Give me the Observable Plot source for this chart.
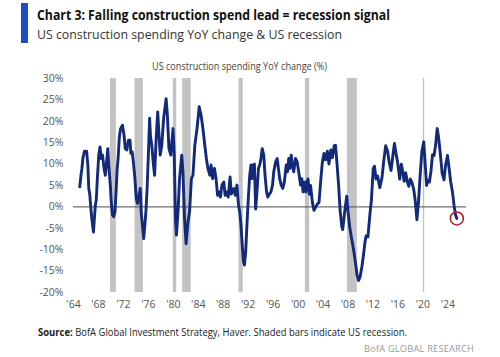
<!DOCTYPE html>
<html>
<head>
<meta charset="utf-8">
<script src="https://cdn.jsdelivr.net/npm/d3@7"></script>
<script src="https://cdn.jsdelivr.net/npm/@observablehq/plot@0.6"></script>
<style>
  html, body { margin: 0; padding: 0; background: #fff; }
  #wrap { position: relative; width: 500px; height: 357px; overflow: hidden; font-family: "Open Sans", "Noto Sans", sans-serif; }
  .fit { position: absolute; white-space: nowrap; transform-origin: 0 0; line-height: 1; }
  #bar { position: absolute; left: 21px; top: 3px; width: 7px; height: 40px; background: #1a4fc4; }
  #title { left: 37px; top: 8px; font-size: 14px; font-weight: 700; color: #111; }
  #subtitle { left: 37px; top: 27.5px; font-size: 13px; font-weight: 400; color: #333; }
  #inner { left: 152px; top: 61px; font-size: 10px; color: #444; }
  #source { left: 38px; top: 327px; font-size: 10.5px; color: #222; }
  #brand { left: 364px; top: 344px; font-size: 9px; color: #999; letter-spacing: 0.2px; }
  #chart { position: absolute; left: 0; top: 52px; }
</style>
</head>
<body>
<div id="wrap">
  <div id="bar"></div>
  <div id="title" class="fit" data-w="353">Chart 3: Falling construction spend lead = recession signal</div>
  <div id="subtitle" class="fit" data-w="305">US construction spending YoY change &amp; US recession</div>
  <div id="inner" class="fit" data-w="175">US construction spending YoY change (%)</div>
  <div id="chart"></div>
  <div id="source" class="fit" data-w="369"><b>Source:</b> BofA Global Investment Strategy, Haver. Shaded bars indicate US recession.</div>
  <div id="brand" class="fit" data-w="110">BofA GLOBAL RESEARCH</div>
</div>
<script>
// --- data ---
const years = [
  1965.0,1965.2,1965.35,1965.5,1965.75,1966.1,1966.3,1966.45,1966.6,1966.9,
  1967.2,1967.35,1967.5,1967.65,1967.85,1968.05,1968.25,1968.45,1968.65,1968.9,
  1969.1,1969.35,1969.5,1969.65,1969.9,1970.05,1970.25,1970.45,1970.65,1970.85,
  1971.0,1971.15,1971.35,1971.55,1971.85,1972.1,1972.3,1972.55,1972.8,1973.05,
  1973.2,1973.4,1973.6,1973.85,1974.05,1974.25,1974.5,1974.7,1974.85,1975.05,
  1975.25,1975.4,1975.6,1975.8,1976.0,1976.2,1976.35,1976.55,1976.8,1977.0,
  1977.25,1977.5,1977.65,1977.9,1978.15,1978.45,1978.85,1979.05,1979.3,1979.6,
  1979.95,1980.15,1980.35,1980.5,1980.75,1981.0,1981.35,1981.55,1981.8,1982.05,
  1982.35,1982.6,1982.9,1983.15,1983.45,1983.8,1984.15,1984.45,1984.75,1985.05,
  1985.3,1985.55,1985.85,1986.05,1986.3,1986.6,1986.85,1987.1,1987.35,1987.55,
  1987.8,1988.1,1988.3,1988.55,1988.8,1989.1,1989.3,1989.7,1989.95,1990.2,
  1990.45,1990.65,1990.85,1991.05,1991.25,1991.4,1991.6,1991.8,1992.05,1992.25,
  1992.45,1992.6,1992.8,1993.0,1993.2,1993.45,1993.65,1993.85,1994.05,1994.25,
  1994.5,1994.7,1994.95,1995.15,1995.45,1995.65,1995.9,1996.1,1996.4,1996.65,
  1996.85,1997.05,1997.3,1997.55,1997.8,1998.1,1998.3,1998.5,1998.7,1998.9,
  1999.1,1999.3,1999.6,1999.85,2000.1,2000.4,2000.6,2000.8,2001.0,2001.25,
  2001.45,2001.6,2001.8,2002.0,2002.3,2002.55,2002.85,2003.1,2003.35,2003.65,
  2003.9,2004.15,2004.4,2004.7,2004.95,2005.25,2005.5,2005.8,2006.0,2006.25,
  2006.5,2006.75,2007.0,2007.15,2007.45,2007.8,2008.0,2008.3,2008.6,2008.9,
  2009.2,2009.45,2009.7,2009.95,2010.25,2010.5,2010.75,2010.9,2011.2,2011.5,
  2011.75,2012.05,2012.25,2012.5,2012.75,2013.1,2013.45,2013.75,2014.05,2014.35,
  2014.6,2014.9,2015.2,2015.45,2015.7,2015.95,2016.3,2016.55,2016.75,2017.0,
  2017.25,2017.5,2017.75,2018.0,2018.3,2018.55,2018.8,2019.05,2019.3,2019.55,
  2019.85,2020.15,2020.4,2020.6,2020.8,2021.05,2021.3,2021.55,2021.8,2022.05,
  2022.3,2022.5,2022.8,2023.1,2023.4,2023.65,2023.95,2024.2,2024.45,2024.75,
  2025.0,2025.25,2025.45
];
const values = [
  4.7,7.4,9.0,11.3,13.0,13.0,9.8,4.3,3.0,-2.3,
  -5.9,-2.7,0.4,1.6,7.4,12.1,14.0,11.3,12.1,9.0,
  7.4,11.3,13.6,9.8,5.1,1.2,-1.9,-2.3,-1.2,4.3,
  9.0,11.3,16.4,18.3,19.1,16.8,13.6,13.3,15.6,15.6,
  12.5,12.9,10.5,6.6,2.0,0.8,2.7,4.3,-1.2,-4.3,
  -7.4,-5.0,-1.2,4.3,12.1,20.7,16.4,14.4,10.0,7.4,
  15.9,22.2,18.3,12.1,14.4,20.7,25.3,21.4,13.6,12.1,
  18.3,12.1,-2.7,-6.6,-1.2,6.6,12.1,8.2,-2.7,-8.6,
  -3.5,-1.2,6.6,7.4,14.4,18.3,23.4,21.4,18.3,14.4,
  11.3,9.0,7.4,9.8,6.6,9.0,6.6,2.7,3.5,2.3,
  5.1,5.8,2.7,3.5,2.3,7.0,3.0,4.3,2.7,5.1,
  0.4,-1.2,-4.3,-8.9,-12.8,-13.6,-10.5,-4.3,2.7,7.4,
  9.8,6.6,9.8,10.0,-0.5,4.3,9.0,9.8,11.3,13.6,
  12.1,7.4,3.5,2.3,3.1,3.5,5.1,8.2,10.5,11.3,
  9.0,6.6,5.1,4.3,5.8,9.8,8.2,11.3,9.0,12.1,
  9.8,8.2,11.3,10.5,8.2,5.1,6.6,3.5,5.8,3.5,
  6.0,6.5,3.0,5.0,1.0,-0.8,0.0,0.7,1.0,6.5,
  10.5,12.5,11.0,13.0,10.0,13.3,11.5,14.3,14.4,10.0,
  5.0,-1.0,-4.5,-5.3,-1.4,2.5,-1.0,-5.0,-7.5,-10.0,
  -13.0,-15.8,-17.2,-16.3,-13.8,-11.0,-8.0,-6.8,-7.0,-2.0,
  1.5,9.0,9.5,6.5,7.2,4.5,6.8,11.0,14.3,13.0,
  10.5,8.5,12.0,14.8,12.5,10.5,6.5,10.0,8.5,6.0,
  8.0,6.0,4.8,6.5,5.5,4.0,1.2,-3.0,1.0,7.0,
  13.0,15.2,9.5,5.0,6.2,5.8,8.3,12.2,12.0,14.5,
  18.3,16.5,12.5,7.8,6.3,9.8,12.0,9.2,6.0,3.5,
  0.4,-1.9,-2.7
];
const recessionStart = [1969.92, 1973.87, 1980.0, 1981.5, 1990.54, 2001.17, 2007.92, 2020.08];
const recessionEnd   = [1970.87, 1975.21, 1980.54, 1982.87, 1991.21, 2001.87, 2009.5, 2020.3];
const xTicks = [1964,1968,1972,1976,1980,1984,1988,1992,1996,2000,2004,2008,2012,2016,2020,2024];
const yTicks = [-20,-15,-10,-5,0,5,10,15,20,25,30];

const series = years.map((x, i) => ({x, y: values[i]}));
const recessions = recessionStart.map((s, i) => ({start: s, end: recessionEnd[i]}));
const latest = [series[series.length - 1]];

const chart = Plot.plot({
  width: 500,
  height: 266,
  marginLeft: 73,
  marginRight: 34,
  marginTop: 26,
  marginBottom: 26,
  style: { fontFamily: "'Open Sans', 'Noto Sans', sans-serif", fontSize: "10.5px", color: "#555", background: "transparent" },
  x: { domain: [1964, 2027], ticks: xTicks, tickFormat: d => "'" + String(d).slice(2), tickSize: 0, tickPadding: 8, label: null },
  y: { domain: [-20, 30], ticks: yTicks, tickFormat: d => d + "%", tickSize: 0, tickPadding: 10, label: null },
  marks: [
    Plot.rect(recessions, { x1: "start", x2: "end", fill: "#c3c3c3" }),
    Plot.ruleY([0], { stroke: "#4a4a55", strokeWidth: 1 }),
    Plot.line(series, { x: "x", y: "y", stroke: "#13297a", strokeWidth: 2.9, strokeLinejoin: "round" }),
    Plot.dot(latest, { x: "x", y: "y", r: 6.5, stroke: "#b52028", strokeWidth: 1.6, fill: "none" })
  ]
});
document.getElementById("chart").appendChild(chart);

// scale text blocks horizontally to the widths seen in the reference
document.querySelectorAll(".fit").forEach(el => {
  const target = +el.dataset.w;
  const w = el.getBoundingClientRect().width;
  if (w > 0) el.style.transform = `scaleX(${target / w})`;
});
</script>
</body>
</html>
